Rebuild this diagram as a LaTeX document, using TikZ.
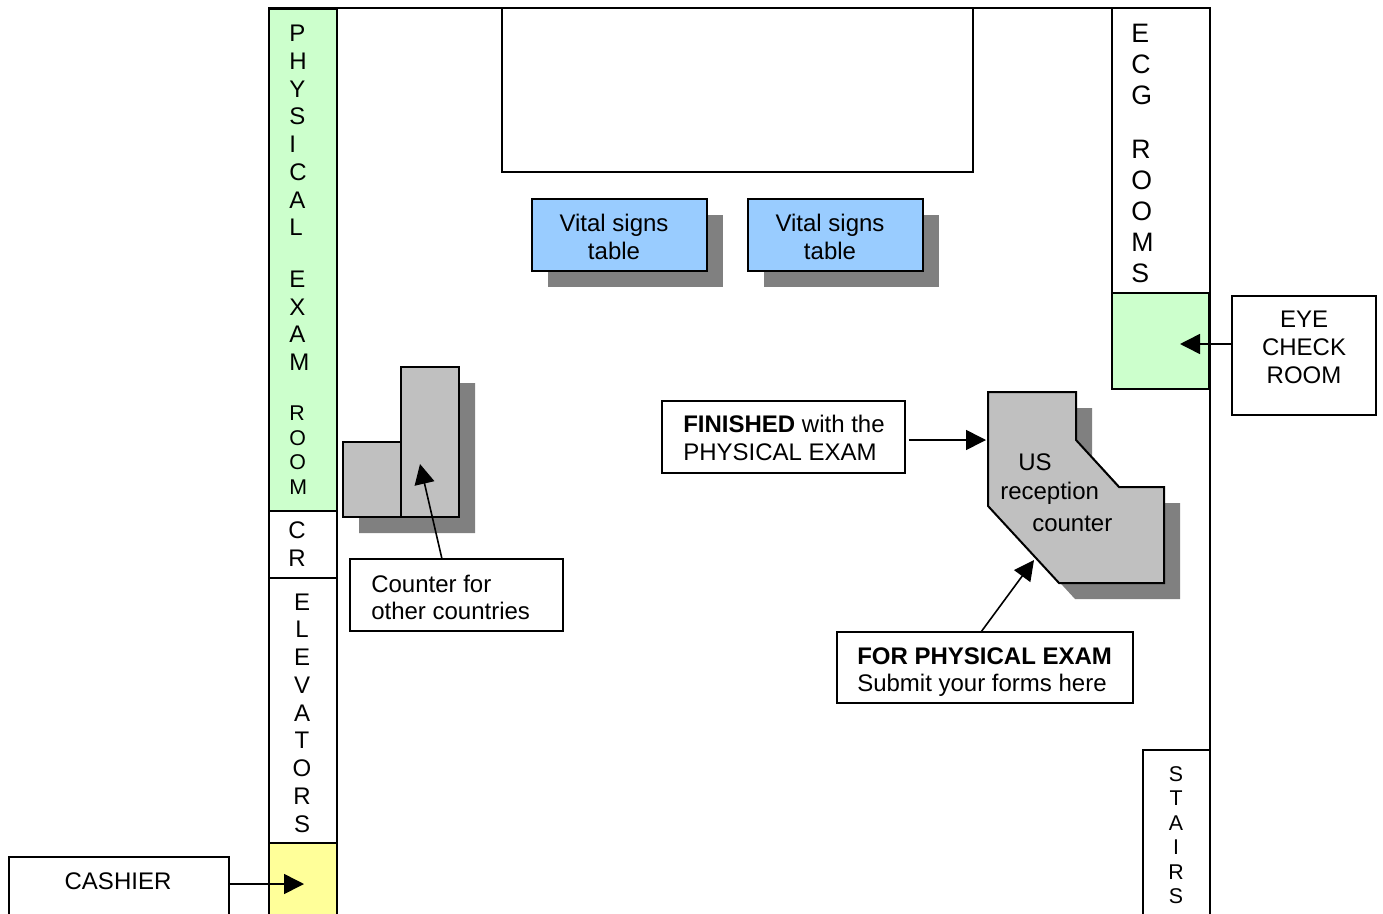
\documentclass[tikz,border=0pt]{standalone}
\usepackage{fontspec}
\setmainfont{Liberation Sans}
\usetikzlibrary{arrows.meta}

\begin{document}
\begin{tikzpicture}[
    x=0.75pt, y=-0.75pt,
    room/.style 2 args={rectangle, draw=black, line width=1.5pt, fill=white, inner sep=0pt, minimum width=#1*0.75pt, minimum height=#2*0.75pt},
    tabletop/.style={room={175}{72}, fill=tableblue},
    shadowbox/.style={fill=shadowgray, draw=none},
    counterpart/.style={draw=black, line width=1.5pt, fill=countergray},
    lettersbig/.style={inner sep=0pt, align=left, font=\fontsize{20}{23.25}\selectfont},
    lettersmid/.style={inner sep=0pt, align=center, font=\fontsize{18}{20.8}\selectfont},
    letterssmall/.style={inner sep=0pt, align=center, font=\fontsize{16}{18.4}\selectfont},
    notetext/.style={inner sep=0pt, align=left, anchor=west, font=\fontsize{18}{20.8}\selectfont},
    arrow/.style={-{Triangle[length=15pt, width=15pt]}, line width=1.2pt}
]
\definecolor{tableblue}{HTML}{99CCFF}
\definecolor{roomgreen}{HTML}{CCFFCC}
\definecolor{cashyellow}{HTML}{FFFF99}
\definecolor{countergray}{HTML}{C0C0C0}
\definecolor{shadowgray}{HTML}{808080}

\useasboundingbox (0,0) rectangle (1383,913);

% Walls
\coordinate (wallbl) at (269,925);
\coordinate (walltl) at (269,8);
\coordinate (walltr) at (1210,8);
\coordinate (wallbr) at (1210,925);
\draw[line width=1.5pt] (wallbl) -- (walltl) -- (walltr) -- (wallbr);

% Left rooms
\node[room={68}{502}, fill=roomgreen] (physical) at (303,260) {};
\node[room={68}{67}] (cr) at (303,544.5) {};
\node[room={68}{265}] (elevators) at (303,710.5) {};
\node[room={68}{80}, fill=cashyellow] (cashroom) at (303,883) {};

\node[lettersmid, align=left, anchor=north west] (physicaltext) at (289,25) {P\\H\\Y\\S\\I\\C\\A\\L\\[0.1pt]\mbox{}\\[-3pt]E\\X\\A\\M\\[0pt]\mbox{}\\[-4pt]{\fontsize{16}{18.4}\selectfont R}\\[-2.4pt]{\fontsize{16}{18.4}\selectfont O}\\[-2.4pt]{\fontsize{16}{18.4}\selectfont O}\\[-2.4pt]{\fontsize{16}{18.4}\selectfont M}};
\node[lettersmid] (crtext) at (297,544) {C\\R};
\node[lettersmid] (elevatorstext) at (302,713) {E\\L\\E\\V\\A\\T\\O\\R\\S};

% Right rooms
\node[room={98}{285}] (ecg) at (1161,150.5) {};
\node[room={97}{96}, fill=roomgreen] (eyeroom) at (1160.5,341) {};
\node[room={67}{170}] (stairs) at (1176.5,835) {};
\node[lettersbig, anchor=north west] (ecgtext) at (1131,24) {E\\C\\G\\[-3pt]\mbox{}\\[-3pt]R\\O\\O\\M\\S};
\node[letterssmall] (stairstext) at (1176,835) {S\\T\\A\\I\\R\\S};

% Top box
\node[room={471}{164}] (topbox) at (737.5,90) {};

% Vital signs tables
\fill[shadowbox] (548,215) rectangle (723,287);
\fill[shadowbox] (764,215) rectangle (939,287);
\node[tabletop] (table1) at (619.5,235) {};
\node[tabletop] (table2) at (835.5,235) {};
\node[lettersmid] (table1text) at (614,237) {Vital signs\\table};
\node[lettersmid] (table2text) at (830,237) {Vital signs\\table};

% Counter for other countries
\fill[shadowbox] (417,383) -- (475,383) -- (475,533) -- (359,533) -- (359,458) -- (417,458) -- cycle;
\node[room={58}{75}, fill=countergray] (countersmall) at (372,479.5) {};
\node[room={58}{150}, fill=countergray] (countertall) at (430,442) {};
\node[room={213}{72}] (counternote) at (456.5,595) {};
\node[notetext] (counternotetext) at (371,597.5) {Counter for\\other countries};
\coordinate (counterfrom) at (442,559);
\coordinate (countertip) at (420,464);
\draw[arrow] (counterfrom) -- (countertip);

% US reception counter
\fill[shadowbox] (1004,408) -- (1092,408) -- (1092,456) -- (1135,503) -- (1180,503) -- (1180,599) -- (1075,599) -- (1004,522) -- cycle;
\draw[counterpart] (988,392) -- (1076,392) -- (1076,440) -- (1119,487) -- (1164,487) -- (1164,583) -- (1059,583) -- (988,506) -- cycle;
\node[inner sep=0pt, align=left, anchor=north west, font=\fontsize{18}{20.8}\selectfont] (reception) at (1000,453) {\hspace{13.5pt}US\\[1.5pt]reception\\[3pt]\hspace{24pt}counter};

% Notes and arrows
\node[room={243}{72}] (finished) at (783.5,437) {};
\node[notetext] (finishedtext) at (683,438) {\textbf{FINISHED} with the\\PHYSICAL EXAM};
\coordinate (finishedfrom) at (909,440);
\coordinate (finishedtip) at (986,440);
\draw[arrow] (finishedfrom) -- (finishedtip);

\node[room={296}{71}] (submit) at (985,667.5) {};
\node[notetext] (submittext) at (857,672) {\textbf{FOR PHYSICAL EXAM}\\Submit your forms here};
\coordinate (submitfrom) at (981,632);
\coordinate (submittip) at (1034,560);
\draw[arrow] (submitfrom) -- (submittip);

\node[room={144}{119}] (eyecheck) at (1304,355.5) {};
\node[lettersmid] (eyetext) at (1304,347.5) {EYE\\CHECK\\ROOM};
\coordinate (eyetip) at (1180,344);
\draw[arrow] (eyecheck.west |- eyetip) -- (eyetip);

\node[room={220}{68}] (cashier) at (119,891) {};
\node[lettersmid] (cashiertext) at (118,881) {CASHIER};
\coordinate (cashiertip) at (304,884);
\draw[arrow] (cashier.east |- cashiertip) -- (cashiertip);

\end{tikzpicture}
\end{document}
